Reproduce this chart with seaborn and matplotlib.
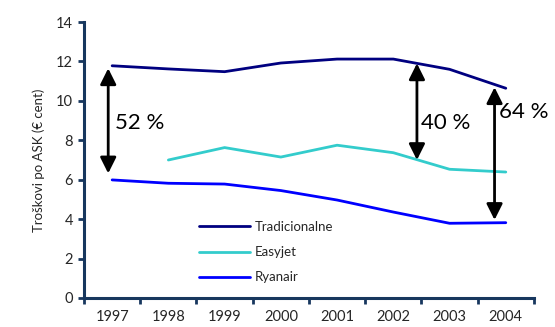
import matplotlib
matplotlib.use("Agg")
import matplotlib.pyplot as plt
import seaborn as sns
import pandas as pd
import numpy as np

years = ["1997", "1998", "1999", "2000", "2001", "2002", "2003", "2004"]
tradicionalne = [11.78, 11.62, 11.48, 11.92, 12.12, 12.12, 11.6, 10.64]
easyjet = [np.nan, 7.0, 7.63, 7.15, 7.75, 7.37, 6.53, 6.39]
ryanair = [5.99, 5.82, 5.78, 5.45, 4.97, 4.36, 3.79, 3.82]
series_names = ["Tradicionalne", "Easyjet", "Ryanair"]
colors = ["#000080", "#33CCCC", "#0000FF"]

# arrows: (x position in category units, y bottom, y top, label, label x, label y)
arrows = [(-0.07, 6.32, 11.65, "52 %", 0.05, 8.9),
          (5.42, 7.0, 11.9, "40 %", 5.5, 8.9),
          (6.8, 3.96, 10.69, "64 %", 6.88, 9.45)]

sns.set_style("white")
plt.rcParams['font.family'] = ['Lato', 'DejaVu Sans']

rows = []
for name, vals in zip(series_names, [tradicionalne, easyjet, ryanair]):
    for i, v in enumerate(vals):
        rows.append({"x": i, "val": v, "series": name})
df = pd.DataFrame(rows).dropna()

fig = plt.figure(figsize=(5.55, 3.27), dpi=100)
ax = fig.add_axes([0.1514, 0.0887, 0.8106, 0.844])
sns.lineplot(data=df, x="x", y="val", hue="series", hue_order=series_names,
             palette=colors, linewidth=2, ax=ax, legend=True)

for x, y0, y1, lab, tx, ty in arrows:
    ax.annotate("", xy=(x, y0), xytext=(x, y1),
                arrowprops=dict(arrowstyle="<|-|>", color="black", lw=2,
                                mutation_scale=24, shrinkA=0, shrinkB=0))
    ax.text(tx, ty, lab, fontsize=16, va="center", ha="left", color="black")

ax.set_xlim(-0.5, 7.5)
ax.set_ylim(0, 14)
ax.set_yticks(range(0, 15, 2))
ax.set_xticks(np.arange(-0.5, 8, 1))
ax.set_xticklabels([])
ax.set_xticks(range(8), minor=True)
ax.set_xticklabels(years, minor=True)
ax.tick_params(axis="x", which="minor", length=0, pad=9, labelsize=10.5)
ax.tick_params(axis="x", which="major", length=4, width=2, color="#17375E", direction="out", bottom=True)
ax.tick_params(axis="y", length=4, width=2, color="#17375E", direction="out", left=True, labelsize=10.5, pad=4)
for s in ["top", "right"]:
    ax.spines[s].set_visible(False)
for s in ["left", "bottom"]:
    ax.spines[s].set_color("#17375E")
    ax.spines[s].set_linewidth(2.2)
ax.set_xlabel("")
ax.set_ylabel("Troškovi po ASK (€ cent)", fontsize=9.5, labelpad=8)
ax.grid(False)

leg = ax.legend(loc="lower left", bbox_to_anchor=(0.23, 0.01), frameon=False,
                fontsize=9.5, handlelength=3.8, handletextpad=0.4, labelspacing=1.0)
fig.savefig("out.png", dpi=100)
